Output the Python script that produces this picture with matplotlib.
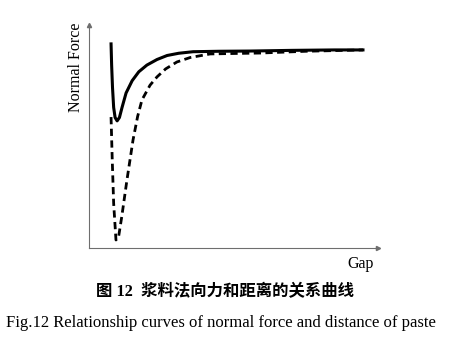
import matplotlib.pyplot as plt

# normal force vs gap, arbitrary units (0-100 on both axes)
gap_solid = [7.6, 7.8, 8.1, 8.5, 9.0, 9.7, 10.5, 11.4, 12.8, 14.9, 17.2, 20.0, 23.5, 27.0, 31.0, 36.0, 45.0, 55.7, 70.0, 85.0, 94.8]
force_solid = [91.5, 82.0, 72.0, 63.0, 58.5, 57.0, 58.5, 63.0, 69.5, 75.0, 79.0, 82.0, 84.5, 86.3, 87.3, 88.0, 88.2, 88.3, 88.6, 88.8, 88.8]

gap_dashed = [7.6, 8.0, 8.5, 9.3, 10.2, 11.3, 13.1, 15.2, 16.8, 18.3, 21.1, 23.5, 26.5, 30.4, 35.0, 41.9, 50.0, 59.2, 75.0, 94.8]
force_dashed = [58.7, 40.0, 20.0, 3.6, 5.0, 14.0, 30.5, 48.4, 59.0, 66.4, 73.0, 76.7, 80.3, 83.4, 85.4, 87.0, 87.2, 87.4, 88.2, 88.8]

fig = plt.figure(figsize=(4.5, 3.37), dpi=100)
ax = fig.add_axes([0.198, 0.264, 0.642, 0.662])

ax.plot(gap_solid, force_solid, color='black', lw=2.2, solid_joinstyle='round')
ax.plot(gap_dashed, force_dashed, color='black', lw=2.0, ls=(0, (2.6, 1.6)))

ax.set_xlim(0, 100)
ax.set_ylim(0, 100)
ax.set_xticks([])
ax.set_yticks([])
for side in ('top', 'right'):
    ax.spines[side].set_visible(False)
for side in ('left', 'bottom'):
    ax.spines[side].set_color('#6e6e6e')
    ax.spines[side].set_linewidth(0.8)

# small arrow heads at the axis ends
ax.plot(1, 0, '>', color='#6e6e6e', ms=3, transform=ax.transAxes, clip_on=False)
ax.plot(0, 1, '^', color='#6e6e6e', ms=3, transform=ax.transAxes, clip_on=False)

ax.text(-0.045, 0.81, 'Normal Force', transform=ax.transAxes, rotation=90,
        ha='center', va='center', family='Liberation Serif', fontsize=11.5)
ax.text(0.94, -0.07, 'Gap', transform=ax.transAxes, ha='center', va='center',
        family='Liberation Serif', fontsize=11.5)

fig.text(0.5, 0.133, '图 12  浆料法向力和距离的关系曲线', ha='center', va='center',
         family=['Liberation Serif', 'Noto Sans CJK SC'], fontweight='bold', fontsize=11.8)
fig.text(0.492, 0.042, 'Fig.12 Relationship curves of normal force and distance of paste',
         ha='center', va='center', family='Liberation Serif', fontsize=12.0)

fig.savefig('out.png', dpi=100)
